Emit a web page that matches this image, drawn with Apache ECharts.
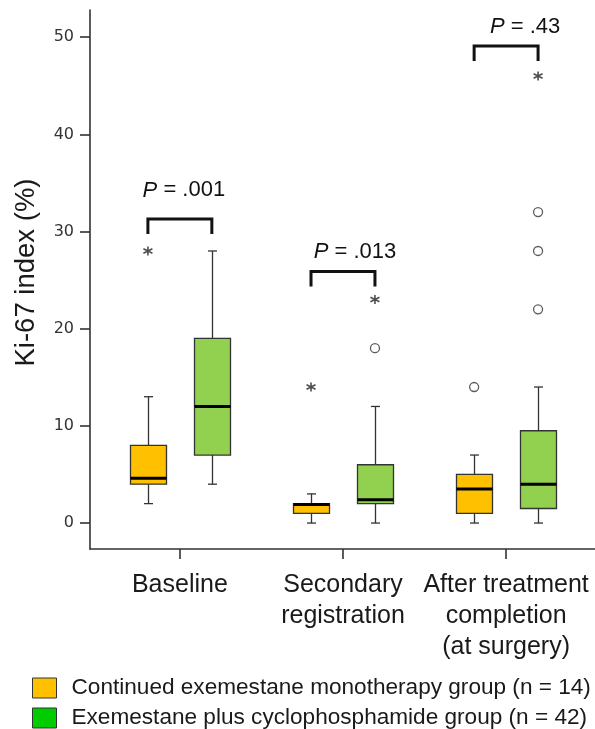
<!DOCTYPE html>
<html><head><meta charset="utf-8">
<script src="https://cdn.jsdelivr.net/npm/echarts@6/dist/echarts.min.js"></script>
<style>html,body{margin:0;padding:0;background:#fff}#c{width:595px;height:729px}</style>
</head><body><div id="c"></div>
<script>
// ---------------- data ----------------
const categories = ['Baseline', 'Secondary\nregistration', 'After treatment\ncompletion\n(at surgery)'];
const groupNames = ['Continued exemestane monotherapy group (n = 14)', 'Exemestane plus cyclophosphamide group (n = 42)'];
// [low whisker, Q1, median, Q3, high whisker] per category
const monoBox  = [[2, 4, 4.6, 8, 13], [0, 1, 1.9, 2, 3], [0, 1, 3.5, 5, 7]];
const comboBox = [[4, 7, 12, 19, 28], [0, 2, 2.4, 6, 12], [0, 1.5, 4, 9.5, 14]];
// outliers: [category index, value]
const monoCircles  = [[2, 14]];
const monoStars    = [[0, 28], [1, 14]];
const comboCircles = [[1, 18], [2, 22], [2, 28], [2, 32]];
const comboStars   = [[1, 23], [2, 46]];
const yTicks = [0, 10, 20, 30, 40, 50];
const pValues = ['.001', '.013', '.43'];
const pBracketTop = [31.3, 25.9, 49.1];

// ---------------- style ----------------
const OFF = 0.196;           // box offset from category centre (axis units)
const boxFill = ['#FFC000', '#92D050'];
const legendFill = ['#FFC000', '#00CC00'];
const INK = '#333';
const FONT = 'Liberation Sans, Arial, sans-serif';
const pTextDx = [4, 12, 19];   // px
const pTextDy = [28.5, 19.5, 19]; // px above bracket

function boxRenderer(fill) {
  return function (params, api) {
    const x = api.value(0);
    const lo = api.coord([x, api.value(1)]);
    const q1 = api.coord([x, api.value(2)]);
    const md = api.coord([x, api.value(3)]);
    const q3 = api.coord([x, api.value(4)]);
    const hi = api.coord([x, api.value(5)]);
    const cx = Math.round(lo[0]) + 0.5, hw = 18, cap = 4.5;
    const ls = { stroke: INK, lineWidth: 1.3 };
    return { type: 'group', children: [
      { type: 'line', shape: { x1: cx, y1: hi[1], x2: cx, y2: q3[1] }, style: ls },
      { type: 'line', shape: { x1: cx, y1: q1[1], x2: cx, y2: lo[1] }, style: ls },
      { type: 'line', shape: { x1: cx - cap, y1: hi[1], x2: cx + cap, y2: hi[1] }, style: ls },
      { type: 'line', shape: { x1: cx - cap, y1: lo[1], x2: cx + cap, y2: lo[1] }, style: ls },
      { type: 'rect', shape: { x: cx - hw, y: q3[1], width: 2 * hw, height: q1[1] - q3[1] },
        style: { fill: fill, stroke: INK, lineWidth: 1.3 } },
      { type: 'line', shape: { x1: cx - hw, y1: md[1], x2: cx + hw, y2: md[1] },
        style: { stroke: '#000', lineWidth: 3 } }
    ]};
  };
}

function bracketRenderer(params, api) {
  const i = params.dataIndex;
  const x = api.value(0), top = api.value(1);
  const l = api.coord([x - OFF, top]);
  const r = api.coord([x + OFF, top]);
  const leg = 15;
  const txt = { fontSize: 22, fontFamily: FONT, fill: '#111' };
  return { type: 'group', children: [
    { type: 'polyline', shape: { points: [[l[0], l[1] + leg], [l[0], l[1]], [r[0], r[1]], [r[0], r[1] + leg]] },
      style: { stroke: '#111', lineWidth: 3, fill: null } },
    { type: 'text', x: (l[0] + r[0]) / 2 + pTextDx[i], y: l[1] - pTextDy[i],
      style: { text: '{i|P}{n| = ' + pValues[i] + '}', align: 'center', verticalAlign: 'middle',
        rich: { i: Object.assign({ fontStyle: 'italic' }, txt), n: txt } } }
  ]};
}

const starPath = 'path://M5,0L5,10M0.67,2.5L9.33,7.5M0.67,7.5L9.33,2.5';

function outlierSeries(list, side, kind) {
  const base = {
    type: 'scatter', name: 'outliers', silent: true, z: 5,
    data: list.map(d => [d[0] + 1 + side * OFF, d[1]])
  };
  if (kind === 'circle') {
    base.symbol = 'circle'; base.symbolSize = 9;
    base.itemStyle = { color: '#fff', borderColor: INK, borderWidth: 1.3 };
  } else {
    base.symbol = starPath; base.symbolSize = 9;
    base.itemStyle = { color: 'rgba(0,0,0,0)', borderColor: '#222', borderWidth: 1.6 };
  }
  return base;
}

const chart = echarts.init(document.getElementById('c'), null, { renderer: 'canvas' });
chart.setOption({
  animation: false,
  backgroundColor: '#fff',
  grid: { left: 90, right: 0, top: 10, bottom: 180, containLabel: false, outerBoundsMode: 'none' },
  xAxis: {
    type: 'value', min: 0.449, max: 3.545,
    axisLine: { show: true, onZero: false, lineStyle: { color: INK, width: 1.6 } },
    axisTick: { show: true, customValues: [1, 2, 3], length: 10, inside: false, lineStyle: { color: INK, width: 1.6 } },
    axisLabel: { customValues: [1, 2, 3], formatter: v => categories[Math.round(v) - 1] || '',
      fontSize: 25, lineHeight: 31, fontFamily: FONT, color: '#1a1a1a', margin: 21, align: 'center' },
    splitLine: { show: false }
  },
  yAxis: {
    type: 'value', min: -2.67, max: 52.8,
    axisLine: { show: true, onZero: false, lineStyle: { color: INK, width: 1.6 } },
    axisTick: { show: true, customValues: yTicks, length: 10, lineStyle: { color: INK, width: 1.6 } },
    axisLabel: { customValues: yTicks, fontSize: 16, fontFamily: 'DejaVu Sans', color: '#333', margin: 16 },
    splitLine: { show: false },
    name: 'Ki-67 index (%)', nameLocation: 'middle', nameGap: 50,
    nameTextStyle: { fontSize: 27.5, fontFamily: FONT, color: '#1a1a1a', padding: [0, 0, 0, 14] }
  },
  legend: {
    orient: 'vertical', left: 32, top: 676.5, height: 80, padding: 0,
    itemWidth: 24, itemHeight: 20, itemGap: 7, icon: 'rect',
    itemStyle: { borderColor: INK, borderWidth: 1 },
    textStyle: { fontSize: 22.6, fontFamily: FONT, color: '#1a1a1a', padding: [0, 0, 0, 10], lineHeight: 17 },
    data: groupNames
  },
  series: [
    { type: 'custom', name: groupNames[0], itemStyle: { color: legendFill[0] },
      renderItem: boxRenderer(boxFill[0]), encode: { x: 0, y: [1, 2, 3, 4, 5] },
      data: monoBox.map((b, i) => [i + 1 - OFF].concat(b)) },
    { type: 'custom', name: groupNames[1], itemStyle: { color: legendFill[1] },
      renderItem: boxRenderer(boxFill[1]), encode: { x: 0, y: [1, 2, 3, 4, 5] },
      data: comboBox.map((b, i) => [i + 1 + OFF].concat(b)) },
    outlierSeries(monoCircles, -1, 'circle'),
    outlierSeries(monoStars, -1, 'star'),
    outlierSeries(comboCircles, 1, 'circle'),
    outlierSeries(comboStars, 1, 'star'),
    { type: 'custom', name: 'P values', silent: true, renderItem: bracketRenderer,
      encode: { x: 0, y: 1 }, data: pBracketTop.map((t, i) => [i + 1, t]) }
  ]
});
</script>
</body></html>
